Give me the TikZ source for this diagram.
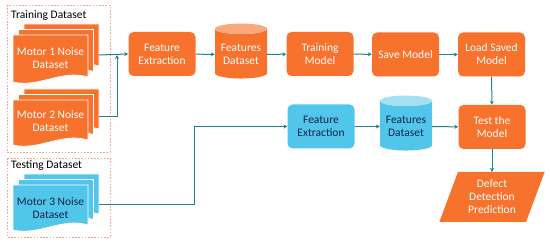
\documentclass[tikz,border=0pt]{standalone}
\usepackage{fontspec}
\setmainfont{Carlito}
\usetikzlibrary{shapes.geometric,arrows.meta}
\definecolor{org}{RGB}{247,114,44}
\definecolor{orgtop}{RGB}{250,168,128}
\definecolor{blu}{RGB}{82,198,234}
\definecolor{blutop}{RGB}{165,224,243}
\definecolor{navy}{RGB}{15,35,75}
\definecolor{tealc}{RGB}{30,132,140}
\definecolor{dashc}{RGB}{244,165,145}
\newcommand\doclayer[5]{%
  \fill[#5] (#1,#2) -- (#1+#3,#2) -- (#1+#3,#2+#4-5)
    .. controls (#1+0.65*#3,#2+#4-13) and (#1+0.35*#3,#2+#4+6) .. (#1,#2+#4) -- cycle;
  \draw[white, line width=0.7pt] (#1,#2) -- (#1+#3,#2) -- (#1+#3,#2+#4-5)
    .. controls (#1+0.65*#3,#2+#4-13) and (#1+0.35*#3,#2+#4+6) .. (#1,#2+#4) -- cycle;}
\newcommand\docstk[5]{%
  \doclayer{#1+11}{#2-11}{#3}{#4}{#5}%
  \doclayer{#1+5.5}{#2-5.5}{#3}{#4}{#5}%
  \doclayer{#1}{#2}{#3}{#4}{#5}}
\begin{document}
\begin{tikzpicture}[x=1pt,y=-1pt, font=\fontsize{11.5}{13}\selectfont,
  box/.style={rounded corners=5pt, minimum width=67pt, minimum height=44pt, align=center, inner sep=1pt},
  obox/.style={box, fill=org, text=white},
  bbox/.style={box, fill=blu, text=navy},
  cyl/.style={cylinder, shape border rotate=90, aspect=0.25, minimum width=52pt, minimum height=55pt, align=center, cylinder uses custom fill, inner sep=1pt},
  ocyl/.style={cyl, cylinder body fill=org, cylinder end fill=orgtop, text=white},
  bcyl/.style={cyl, cylinder body fill=blu, cylinder end fill=blutop, text=navy},
  doctext/.style={align=center, inner sep=0pt},
  conn/.style={draw=tealc, line width=1pt},
  arr/.style={conn, -{Stealth[length=4pt,width=4pt]}},
  grp/.style={draw=dashc, line width=0.8pt, dash pattern=on 1.6pt off 1.6pt},
  grplabel/.style={anchor=west, inner sep=0pt, text=black}
]
\useasboundingbox (0,0) rectangle (550,243);
% groups
\draw[grp] (7,5) rectangle (110,152);
\draw[grp] (7,158) rectangle (110,237);
\node[grplabel] (trl) at (11,16) {Training Dataset};
\node[grplabel] (tel) at (11,166) {Testing Dataset};
% document stacks
\docstk{13}{35}{75}{47}{org}
\docstk{13}{100}{75}{45}{org}
\docstk{13}{185}{75}{45}{blu}
\node[doctext, text=white] (m1) at (50.5,58.5) {Motor 1 Noise\\Dataset};
\node[doctext, text=white] (m2) at (50.5,121.5) {Motor 2 Noise\\Dataset};
\node[doctext, text=navy] (m3) at (50.5,208.5) {Motor 3 Noise\\Dataset};
\coordinate (m1o) at (99,55);
\coordinate (m2o) at (99,117);
\coordinate (m3o) at (99,205);
\coordinate (j1) at (117,55);
% main row
\node[obox] (fe) at (162,54) {Feature\\Extraction};
\node[ocyl] (fd) at (241,54.5) {Features\\Dataset};
\node[obox] (tm) at (320,54) {Training\\Model};
\node[obox] (sm) at (405.5,54.5) {Save Model};
\node[obox] (lm) at (491.5,54.5) {Load Saved\\Model};
% second row
\node[bbox] (bfe) at (321,126.5) {Feature\\Extraction};
\node[bcyl] (bfd) at (406,126.5) {Features\\Dataset};
\node[obox] (tt) at (492,127) {Test the\\Model};
\node[trapezium, trapezium left angle=69, trapezium right angle=111, trapezium stretches=true,
      minimum width=106pt, minimum height=50pt, fill=org, text=white, align=center, inner sep=0pt]
      (dd) at (492,197) {Defect\\Detection\\Prediction};
% connectors
\draw[arr] (m1o) -- (fe.west);
\draw[arr] (m2o) -| (j1);
\draw[arr] (m3o) -- (194,205) |- (bfe.west);
\draw[arr] (fe) -- (fd);
\draw[arr] (fd) -- (tm);
\draw[arr] (tm) -- (sm);
\draw[arr] (sm) -- (lm);
\draw[arr] (lm) -- (tt);
\draw[arr] (bfe) -- (bfd);
\draw[arr] (bfd) -- (tt);
\draw[arr] (tt) -- (dd);
\end{tikzpicture}
\end{document}
